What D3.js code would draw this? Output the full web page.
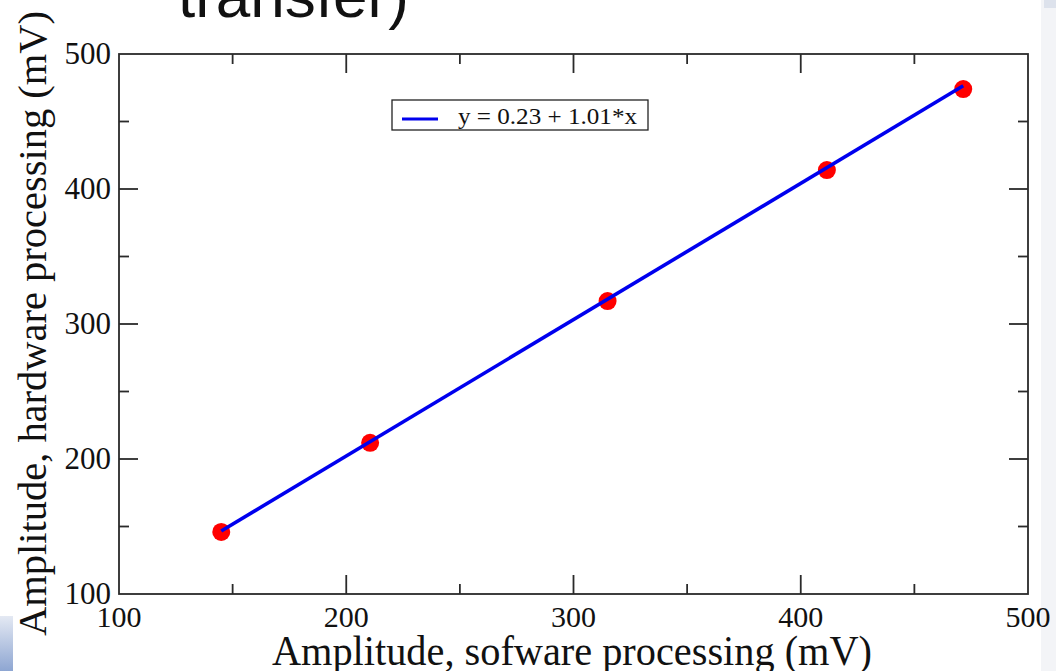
<!DOCTYPE html>
<html>
<head>
<meta charset="utf-8">
<script src="https://cdn.jsdelivr.net/npm/d3@7.9.0/dist/d3.min.js"></script>
<style>
  body { margin: 0; background: #fff; }
  svg { display: block; }
</style>
</head>
<body>
<svg width="1056" height="671"></svg>
<script>
// measured amplitudes (mV)
const softwareAmp = [145, 210.5, 315, 411.5, 471.5];
const hardwareAmp = [146, 212, 317, 414, 474];
const fitIntercept = 0.23;
const fitSlope = 1.01;
const majorTicks = [100, 200, 300, 400, 500];
const minorTicks = [150, 250, 350, 450];

const svg = d3.select('svg');
const pL = 119, pR = 1028, pT = 54, pB = 594;

let x = d3.scaleLinear().domain([100, 500]).range([pL, pR]);
let y = d3.scaleLinear().domain([100, 500]).range([pB, pT]);

// slide decorations
svg.append('rect').attr('x', 1041).attr('y', 0).attr('width', 15).attr('height', 671).attr('fill', '#f3f4f7');
svg.append('rect').attr('x', 1044).attr('y', 0).attr('width', 12).attr('height', 8).attr('fill', '#dde2ec');
let grad = svg.append('defs').append('linearGradient').attr('id', 'g').attr('x1', 0).attr('y1', 0).attr('x2', 0).attr('y2', 1);
grad.append('stop').attr('offset', 0).attr('stop-color', '#e4e9f3');
grad.append('stop').attr('offset', 1).attr('stop-color', '#8ea6d2');
svg.append('rect').attr('x', 0).attr('y', 616).attr('width', 13).attr('height', 55).attr('fill', 'url(#g)');

svg.append('text')
    .attr('x', 178).attr('y', 17)
    .attr('font-family', 'Liberation Sans, Arial, sans-serif')
    .attr('font-size', 62)
    .attr('fill', '#111')
    .text('transfer)');

// frame
svg.append('rect')
    .attr('x', pL).attr('y', pT)
    .attr('width', pR - pL).attr('height', pB - pT)
    .attr('fill', 'none').attr('stroke', '#2a2a2a').attr('stroke-width', 1.8);

const ax = svg.append('g').attr('stroke', '#2a2a2a').attr('stroke-width', 1.8);
function ticks(vals, len) {
    vals.forEach(v => {
        ax.append('line').attr('x1', x(v)).attr('x2', x(v)).attr('y1', pB).attr('y2', pB - len);
        ax.append('line').attr('x1', x(v)).attr('x2', x(v)).attr('y1', pT).attr('y2', pT + len);
        ax.append('line').attr('y1', y(v)).attr('y2', y(v)).attr('x1', pL).attr('x2', pL + len);
        ax.append('line').attr('y1', y(v)).attr('y2', y(v)).attr('x1', pR).attr('x2', pR - len);
    });
}
ticks(majorTicks.slice(1, -1), 19);
ticks(minorTicks, 10);

const serif = 'Liberation Serif, Times New Roman, serif';
majorTicks.forEach(v => {
    svg.append('text').attr('x', x(v)).attr('y', 627)
        .attr('text-anchor', 'middle').attr('font-family', serif).attr('font-size', 30)
        .attr('fill', '#111').text(v);
    svg.append('text').attr('x', 111).attr('y', y(v) + 10)
        .attr('text-anchor', 'end').attr('font-family', serif).attr('font-size', 31)
        .attr('fill', '#111').text(v);
});

svg.append('text')
    .attr('x', 272).attr('y', 665)
    .attr('font-family', serif).attr('font-size', 42)
    .attr('textLength', 600).attr('lengthAdjust', 'spacingAndGlyphs')
    .attr('fill', '#111').text('Amplitude, sofware processing (mV)');
svg.append('text')
    .attr('transform', 'translate(46,636) rotate(-90)')
    .attr('font-family', serif).attr('font-size', 41)
    .attr('textLength', 625).attr('lengthAdjust', 'spacingAndGlyphs')
    .attr('fill', '#111').text('Amplitude, hardware processing (mV)');

// points
svg.selectAll('circle.pt')
    .data(softwareAmp.map((d, i) => [d, hardwareAmp[i]]))
    .join('circle')
    .attr('class', 'pt')
    .attr('cx', d => x(d[0])).attr('cy', d => y(d[1]))
    .attr('r', 9).attr('fill', '#f00');

// fit line
let xExt = d3.extent(softwareAmp);
svg.append('path')
    .datum(xExt)
    .attr('d', d3.line().x(d => x(d)).y(d => y(fitIntercept + fitSlope * d)))
    .attr('stroke', '#0000ee').attr('stroke-width', 3.6).attr('fill', 'none');

// legend
svg.append('rect').attr('x', 392).attr('y', 100).attr('width', 256).attr('height', 30)
    .attr('fill', '#fff').attr('stroke', '#222').attr('stroke-width', 1.3);
svg.append('line').attr('x1', 402).attr('x2', 438).attr('y1', 119).attr('y2', 119)
    .attr('stroke', '#0000ee').attr('stroke-width', 3);
svg.append('text').attr('x', 458).attr('y', 124)
    .attr('font-family', serif).attr('font-size', 23)
    .attr('textLength', 179).attr('lengthAdjust', 'spacingAndGlyphs')
    .attr('fill', '#111')
    .text(`y = ${fitIntercept} + ${fitSlope}*x`);
</script>
</body>
</html>
